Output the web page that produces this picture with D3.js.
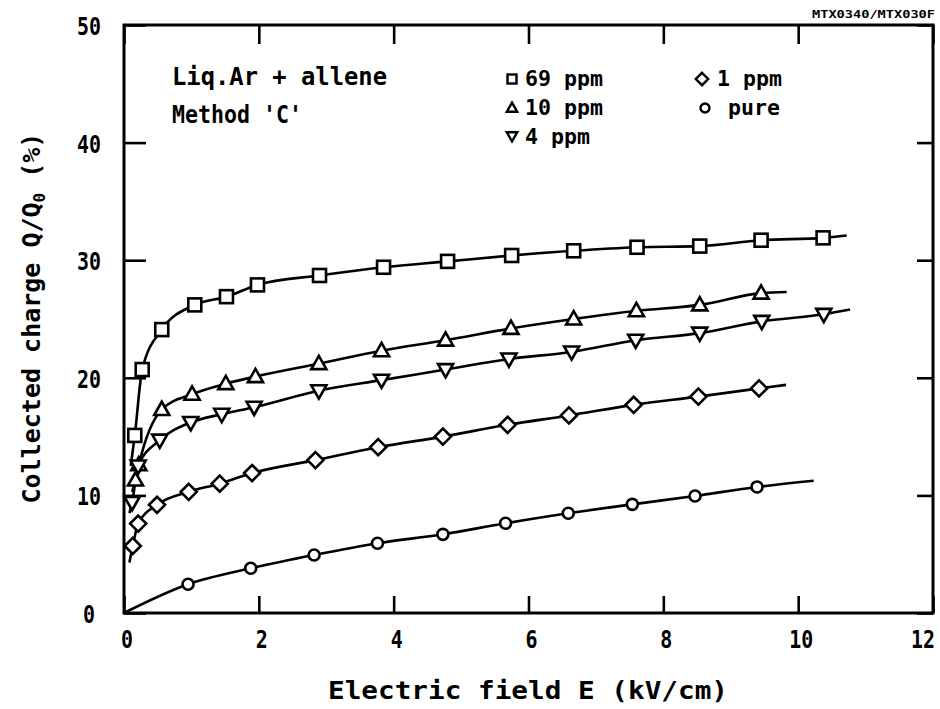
<!DOCTYPE html>
<html><head><meta charset="utf-8">
<script src="https://cdn.jsdelivr.net/npm/d3@7"></script>
<style>body{margin:0;background:#fff}svg{display:block}</style>
</head><body>
<svg id="c" width="940" height="709"></svg>
<script>
// ---- data (E in kV/cm, Q/Q0 in %) ----
const xTicks = [0, 2, 4, 6, 8, 10, 12];
const yTicks = [0, 10, 20, 30, 40, 50];

const ppm69 = [[0.16,15.1],[0.27,20.7],[0.56,24.1],[1.05,26.2],[1.52,26.9],[1.98,27.9],[2.9,28.7],[3.85,29.4],[4.8,29.9],[5.75,30.4],[6.67,30.8],[7.61,31.1],[8.54,31.2],[9.45,31.7],[10.37,31.9]];
const ppm69Curve = [[0.1,12.5],[10.72,32.1]];

const ppm10 = [[0.17,11.3],[0.22,12.6],[0.56,17.3],[1.01,18.6],[1.51,19.5],[1.95,20.1],[2.89,21.2],[3.82,22.3],[4.77,23.2],[5.74,24.2],[6.67,25.0],[7.6,25.7],[8.54,26.2],[9.45,27.2]];
const ppm10Curve = [[0.12,10.3],[9.83,27.3]];

const ppm4 = [[0.12,9.4],[0.21,12.5],[0.53,14.7],[0.99,16.2],[1.45,16.9],[1.93,17.5],[2.89,18.9],[3.82,19.8],[4.77,20.7],[5.71,21.6],[6.64,22.2],[7.59,23.2],[8.54,23.8],[9.46,24.8],[10.38,25.4]];
const ppm4Curve = [[0.08,8.5],[10.77,25.8]];

const ppm1 = [[0.13,5.7],[0.21,7.6],[0.49,9.2],[0.96,10.3],[1.42,11.0],[1.9,11.9],[2.84,13.0],[3.77,14.1],[4.73,15.0],[5.69,16.0],[6.6,16.8],[7.56,17.7],[8.52,18.4],[9.42,19.1]];
const ppm1Curve = [[0.08,4.3],[9.82,19.4]];

const pure = [[0.95,2.44],[1.88,3.8],[2.82,4.93],[3.76,5.93],[4.73,6.69],[5.66,7.63],[6.59,8.48],[7.54,9.24],[8.47,9.95],[9.39,10.72]];
const pureCurve = [[0,0],[10.23,11.25]];

const legendLabels = ["69 ppm","10 ppm","4 ppm","1 ppm","pure"];
const legendSymbols = ["square","triangle","triangleDown","diamond","circle"];

// ---- drawing ----
const svg = d3.select("#c");
const FONT = "'DejaVu Sans Mono', monospace";
const x = d3.scaleLinear().domain([0,12]).range([124,933]);
const y = d3.scaleLinear().domain([0,50]).range([613,25]);

// frame
svg.append("rect").attr("x",x(0)).attr("y",y(50)).attr("width",x(12)-x(0)).attr("height",y(0)-y(50))
  .attr("fill","none").attr("stroke","#000").attr("stroke-width",3);

// axes with inward ticks
const gB = svg.append("g").attr("transform",`translate(0,${y(0)})`)
  .call(d3.axisTop(x).tickValues(xTicks).tickSize(17).tickFormat(""));
const gT = svg.append("g").attr("transform",`translate(0,${y(50)})`)
  .call(d3.axisBottom(x).tickValues(xTicks).tickSize(19).tickFormat(""));
const gL = svg.append("g").attr("transform",`translate(${x(0)},0)`)
  .call(d3.axisRight(y).tickValues(yTicks).tickSize(22).tickFormat(""));
const gR = svg.append("g").attr("transform",`translate(${x(12)},0)`)
  .call(d3.axisLeft(y).tickValues(yTicks).tickSize(16).tickFormat(""));
[gB,gT,gL,gR].forEach(g=>{
  g.select(".domain").remove();
  g.selectAll(".tick line").attr("stroke","#000").attr("stroke-width",2.6);
});

// tick labels
svg.append("g").selectAll("text").data(xTicks).join("text")
  .attr("x",d=>Math.min(x(d)+3, 923)).attr("y",648).attr("text-anchor","middle")
  .attr("font-family",FONT).attr("font-size",25).attr("font-weight","bold")
  .attr("textLength",d=>String(d).length*12).attr("lengthAdjust","spacingAndGlyphs")
  .text(d=>d);
svg.append("g").selectAll("text").data(yTicks).join("text")
  .attr("x",89).attr("y",d=>y(d)+10).attr("text-anchor","middle")
  .attr("font-family",FONT).attr("font-size",25).attr("font-weight","bold")
  .attr("textLength",d=>String(d).length*12).attr("lengthAdjust","spacingAndGlyphs")
  .text(d=>d);

// axis titles
svg.append("text").attr("x",528).attr("y",699).attr("text-anchor","middle")
  .attr("font-family",FONT).attr("font-size",25).attr("font-weight","bold")
  .attr("textLength",400).attr("lengthAdjust","spacingAndGlyphs")
  .text("Electric field  E (kV/cm)");
const yl = svg.append("text").attr("transform","translate(40,318) rotate(-90)").attr("text-anchor","middle")
  .attr("font-family",FONT).attr("font-size",25).attr("font-weight","bold");
yl.append("tspan").text("Collected charge  Q/Q");
yl.append("tspan").attr("font-size",16).attr("dy",5).text("0");
yl.append("tspan").attr("dy",-5).text(" (%)");

// corner id
svg.append("text").attr("x",812).attr("y",18).attr("font-family",FONT).attr("font-size",11).attr("font-weight","bold")
  .attr("textLength",123).attr("lengthAdjust","spacingAndGlyphs").text("MTX0340/MTX030F");

// annotation text
svg.append("text").attr("x",172).attr("y",85).attr("font-family",FONT).attr("font-size",24).attr("font-weight","bold")
  .attr("textLength",215).attr("lengthAdjust","spacingAndGlyphs").text("Liq.Ar + allene");
svg.append("text").attr("x",172).attr("y",123).attr("font-family",FONT).attr("font-size",24).attr("font-weight","bold")
  .attr("textLength",130).attr("lengthAdjust","spacingAndGlyphs").text("Method 'C'");

// marker generator
function marker(g, type, size){
  const s = size;
  if(type==="square") g.append("rect").attr("x",-s/2).attr("y",-s/2).attr("width",s).attr("height",s);
  else if(type==="circle") g.append("circle").attr("r",s/2);
  else if(type==="diamond") g.append("path").attr("d",`M0,${-s*0.62}L${s*0.62},0L0,${s*0.62}L${-s*0.62},0Z`);
  else if(type==="triangle") g.append("path").attr("d",`M0,${-s*0.6}L${s*0.58},${s*0.42}L${-s*0.58},${s*0.42}Z`);
  else if(type==="triangleDown") g.append("path").attr("d",`M0,${s*0.6}L${s*0.58},${-s*0.42}L${-s*0.58},${-s*0.42}Z`);
}

const series = [
  {pts:ppm69, curve:ppm69Curve, sym:"square", size:13},
  {pts:ppm10, curve:ppm10Curve, sym:"triangle", size:13},
  {pts:ppm4, curve:ppm4Curve, sym:"triangleDown", size:13},
  {pts:ppm1, curve:ppm1Curve, sym:"diamond", size:13},
  {pts:pure, curve:pureCurve, sym:"circle", size:11}
];
const line = d3.line().x(d=>x(d[0])).y(d=>y(d[1])).curve(d3.curveMonotoneX);

series.forEach(s=>{
  const all = [s.curve[0], ...s.pts, s.curve[1]];
  svg.append("path").attr("d",line(all)).attr("fill","none").attr("stroke","#000").attr("stroke-width",2.6);
});
series.forEach(s=>{
  svg.append("g").selectAll("g").data(s.pts).join("g")
    .attr("transform",d=>`translate(${x(d[0])},${y(d[1])})`)
    .attr("fill","#fff").attr("stroke","#000").attr("stroke-width",2.6)
    .each(function(){ marker(d3.select(this), s.sym, s.size); });
});

// legend
const legPos = [[512,79,525,86],[512,108,525,115],[512,136,525,144],[702,79,717,86],[705,108,728,115]];
legendLabels.forEach((lab,i)=>{
  const p = legPos[i];
  const g = svg.append("g").attr("transform",`translate(${p[0]},${p[1]})`)
    .attr("fill","#fff").attr("stroke","#000").attr("stroke-width",2.4);
  marker(g, legendSymbols[i], legendSymbols[i]==="diamond"?10:9);
  svg.append("text").attr("x",p[2]).attr("y",p[3]).attr("font-family",FONT).attr("font-size",22).attr("font-weight","bold")
    .attr("textLength",lab.length*13).attr("lengthAdjust","spacingAndGlyphs")
    .text(lab);
});
</script>
</body></html>
